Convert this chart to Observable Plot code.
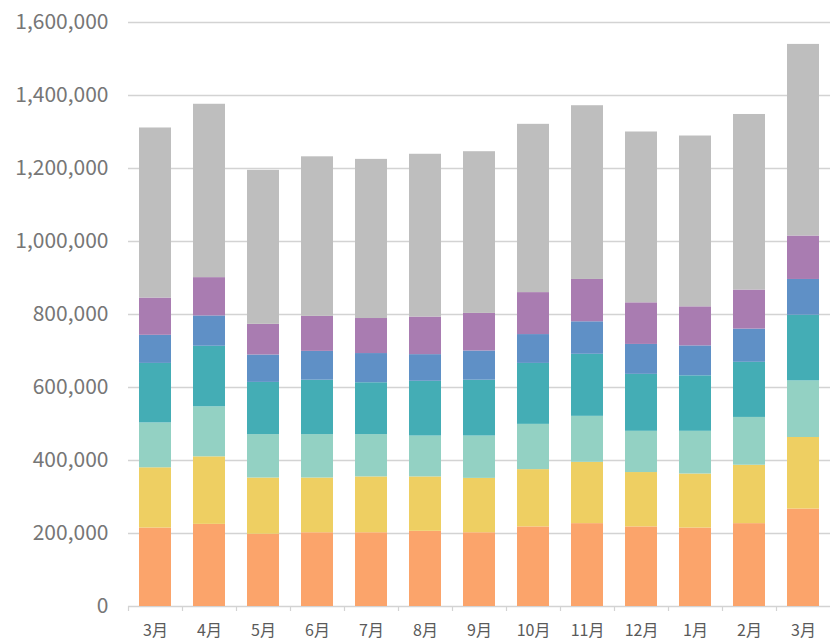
<!DOCTYPE html>
<html>
<head>
<meta charset="utf-8">
<script src="https://cdn.jsdelivr.net/npm/d3@7"></script>
<script src="https://cdn.jsdelivr.net/npm/@observablehq/plot@0.6"></script>
<style>
  html, body { margin: 0; padding: 0; background: #fff; }
  #chart svg { display: block; }
</style>
</head>
<body>
<div id="chart"></div>
<script>
const months = ["3月","4月","5月","6月","7月","8月","9月","10月","11月","12月","1月","2月","3月"];
const seriesNames = ["A","B","C","D","E","F","G"];
const seriesColors = ["#FBA46B","#EECF62","#93D1C3","#44ADB5","#5F90C6","#A97CB1","#BEBEBE"];
const sA = [215000,225000,198000,202000,202000,206000,202000,218000,227000,218000,215000,227000,267000];
const sB = [165000,185000,154000,150000,153000,149000,149000,157000,168000,149000,148000,160000,196000];
const sC = [123000,137000,119000,119000,116000,112000,116000,124000,126000,113000,117000,131000,155000];
const sD = [163000,166000,143000,149000,142000,150000,153000,167000,170000,156000,152000,151000,180000];
const sE = [77000,83000,75000,79000,80000,73000,80000,79000,89000,82000,82000,91000,98000];
const sF = [102000,105000,84000,96000,96000,103000,103000,115000,116000,114000,107000,107000,119000];
const sG = [466000,475000,422000,437000,436000,446000,443000,461000,476000,468000,468000,481000,525000];
const yTicks = [0,200000,400000,600000,800000,1000000,1200000,1400000,1600000];

const allSeries = [sA,sB,sC,sD,sE,sF,sG];
const data = [];
allSeries.forEach((vals, s) => {
  vals.forEach((v, i) => data.push({idx: i, series: seriesNames[s], value: v}));
});
const idxDomain = months.map((m, i) => i);

const font = "'Noto Sans CJK JP', 'Noto Sans', sans-serif";

const chart = Plot.plot({
  width: 831,
  height: 640,
  marginLeft: 128,
  marginRight: 1,
  marginTop: 22,
  marginBottom: 34,
  style: {fontFamily: font, background: "#fff"},
  x: {type: "band", domain: idxDomain, paddingInner: 0.41, paddingOuter: 0.205, label: null},
  y: {domain: [0, 1600000], label: null},
  color: {domain: seriesNames, range: seriesColors},
  marks: [
    Plot.gridY(yTicks, {stroke: "#d3d3d3", strokeOpacity: 1, strokeWidth: 1.6}),
    Plot.barY(data, {x: "idx", y: "value", fill: "series", order: null}),
    Plot.axisX({tickSize: 5, tickFormat: () => "", dx: -27, stroke: "#d3d3d3", strokeWidth: 1.2}),
    Plot.axisX({tickSize: 0, tickPadding: 18, tickFormat: i => months[i], fontSize: 16, fill: "#5a5a5a"}),
    Plot.axisY(yTicks, {tickSize: 0, tickPadding: 20, tickFormat: d3.format(","), fontSize: 21, fill: "#767676"})
  ]
});
document.getElementById("chart").appendChild(chart);
</script>
</body>
</html>
